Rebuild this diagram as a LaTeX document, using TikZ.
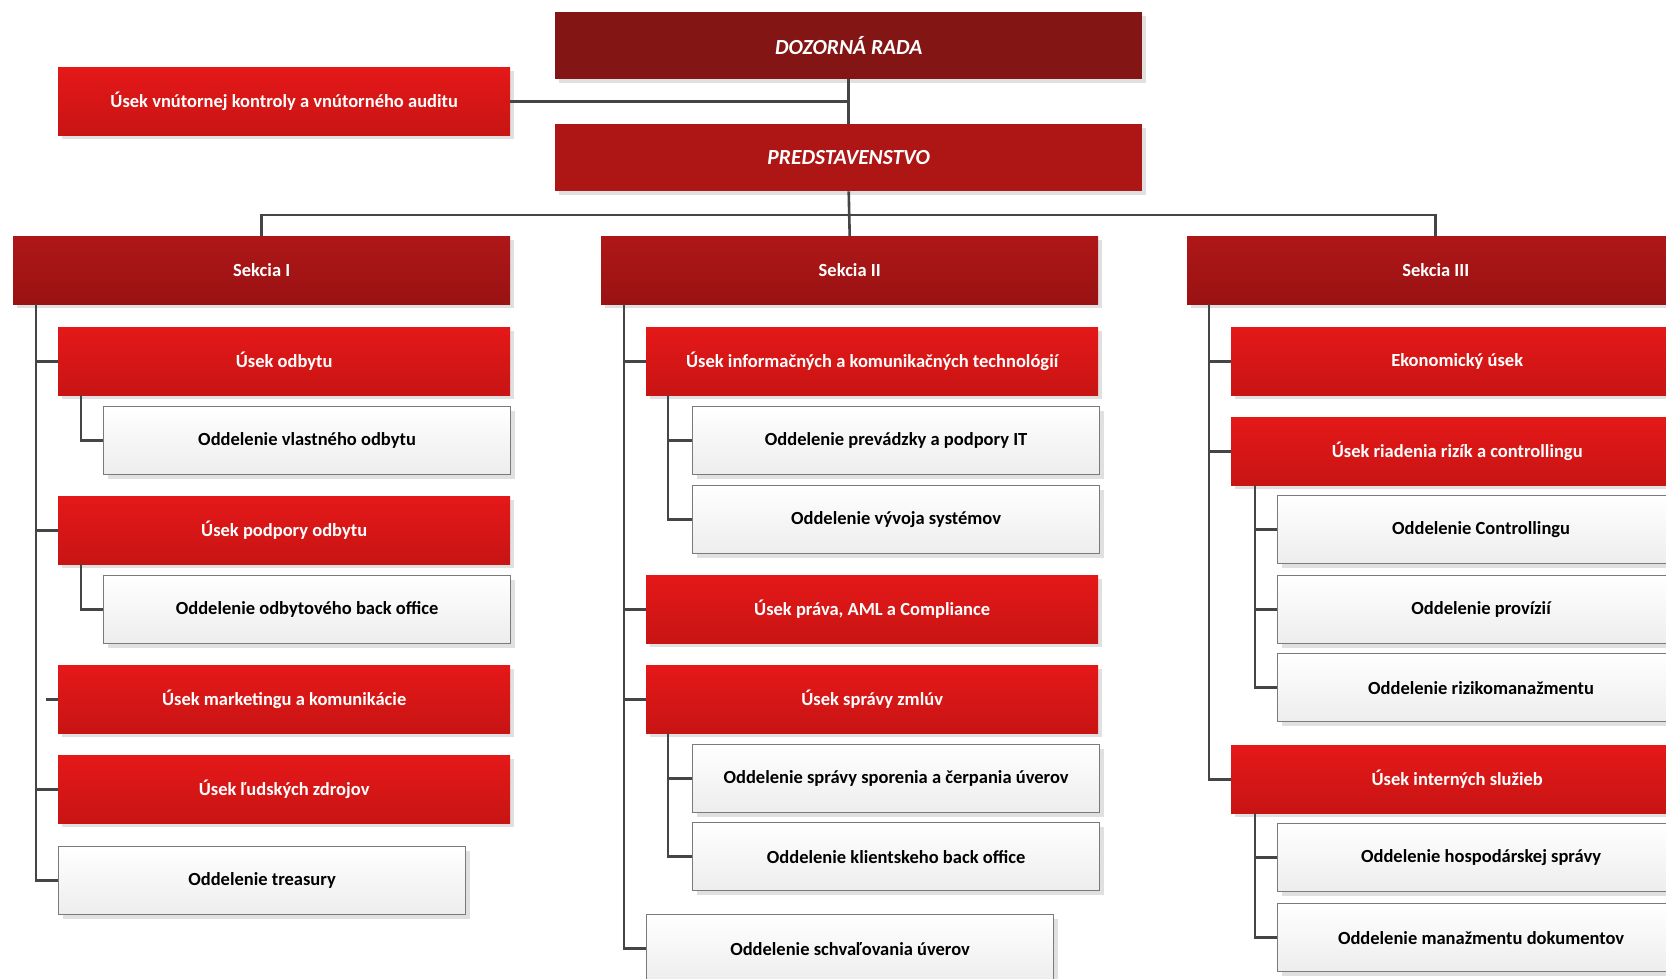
\documentclass[tikz,border=0pt]{standalone}
\usepackage{fontspec}
\setmainfont{Carlito}
\usetikzlibrary{shadows}
\definecolor{usekTop}{HTML}{E51818}
\definecolor{usekBot}{HTML}{C81414}
\definecolor{sekTop}{HTML}{AF1717}
\definecolor{sekBot}{HTML}{9A1214}
\definecolor{dozorC}{HTML}{831515}
\definecolor{predC}{HTML}{AE1515}
\definecolor{oddBot}{HTML}{EDEDED}
\definecolor{oddLine}{HTML}{7A7A7A}
\definecolor{connC}{HTML}{454545}
\begin{document}
\begin{tikzpicture}[x=1pt,y=-1pt,
  box/.style={anchor=north west, minimum height=68pt, inner sep=0pt,
    font=\fontsize{18.5}{22}\selectfont\bfseries,
    drop shadow={shadow xshift=4pt, shadow yshift=-4pt, fill=black!12, opacity=1}},
  usekbox/.style={box, minimum width=452pt, top color=usekTop, bottom color=usekBot, text=white},
  oddbox/.style={box, minimum width=407pt, top color=white, bottom color=oddBot, draw=oddLine, line width=1.2pt, text=black},
  sekbox/.style={box, minimum width=497pt, top color=sekTop, bottom color=sekBot, text=white},
  topbox/.style={box, minimum width=587pt, minimum height=67pt, text=white,
    font=\fontsize{21.5}{25}\selectfont\bfseries\itshape},
  conn/.style={draw=connC, line width=2.6pt}
]
\useasboundingbox[fill=white] (0,0) rectangle (1666,978);

% top
\node[topbox, fill=dozorC] (dozor) at (555,12) {DOZORNÁ RADA};
\node[usekbox] (kontrola) at (58,67) {Úsek vnútornej kontroly a vnútorného auditu};
\node[topbox, fill=predC] (pred) at (555,124) {PREDSTAVENSTVO};

% sections
\node[sekbox] (sek1) at (13,236) {Sekcia I};
\node[sekbox] (sek2) at (601,236) {Sekcia II};
\node[sekbox] (sek3) at (1187,236) {Sekcia III};

% left column
\node[usekbox] (odbytu) at (58,327) {Úsek odbytu};
\node[oddbox] (vlastneho) at (103,406) {Oddelenie vlastného odbytu};
\node[usekbox] (podpory) at (58,496) {Úsek podpory odbytu};
\node[oddbox] (backoff) at (103,575) {Oddelenie odbytového back office};
\node[usekbox] (marketing) at (58,665) {Úsek marketingu a komunikácie};
\node[usekbox] (ludske) at (58,755) {Úsek ľudských zdrojov};
\node[oddbox] (treasury) at (58,846) {Oddelenie treasury};

% middle column
\node[usekbox] (ikt) at (646,327) {Úsek informačných a komunikačných technológií};
\node[oddbox] (prevadzka) at (692,406) {Oddelenie prevádzky a podpory IT};
\node[oddbox] (vyvoj) at (692,485) {Oddelenie vývoja systémov};
\node[usekbox] (prava) at (646,575) {Úsek práva, AML a Compliance};
\node[usekbox] (zmluvy) at (646,665) {Úsek správy zmlúv};
\node[oddbox] (sporenie) at (692,744) {Oddelenie správy sporenia a čerpania úverov};
\node[oddbox] (klient) at (692,822) {Oddelenie klientskeho back office};
\node[oddbox] (schval) at (646,914) {Oddelenie schvaľovania úverov};

% right column
\node[usekbox] (ekon) at (1231,327) {Ekonomický úsek};
\node[usekbox] (rizika) at (1231,417) {Úsek riadenia rizík a controllingu};
\node[oddbox] (control) at (1277,495) {Oddelenie Controllingu};
\node[oddbox] (provizie) at (1277,575) {Oddelenie provízií};
\node[oddbox] (rizman) at (1277,653) {Oddelenie rizikomanažmentu};
\node[usekbox] (interne) at (1231,745) {Úsek interných služieb};
\node[oddbox] (hosp) at (1277,823) {Oddelenie hospodárskej správy};
\node[oddbox] (dokum) at (1277,903) {Oddelenie manažmentu dokumentov};

% helper coordinates
\coordinate (busy) at (0,215);
\coordinate (t1) at (36,0);
\coordinate (s1) at (81,0);
\coordinate (t2) at (624,0);
\coordinate (s2) at (668,0);
\coordinate (t3) at (1209,0);
\coordinate (s3) at (1255,0);
\coordinate (mstub) at (46,0);

% top connectors
\draw[conn] (dozor.south) -- (pred.north);
\draw[conn] (kontrola.east) -- (kontrola.east -| dozor.south);
\draw[conn] (pred.south) -- (sek2.north);
\draw[conn] (sek1.north) -- (sek1.north |- busy) -- (sek3.north |- busy) -- (sek3.north);

% left
\draw[conn] (sek1.south -| t1) -- (treasury.west -| t1) -- (treasury.west);
\draw[conn] (odbytu.west -| t1) -- (odbytu.west);
\draw[conn] (podpory.west -| t1) -- (podpory.west);
\draw[conn] (ludske.west -| t1) -- (ludske.west);
\draw[conn] (marketing.west -| mstub) -- (marketing.west);
\draw[conn] (odbytu.south -| s1) |- (vlastneho.west);
\draw[conn] (podpory.south -| s1) |- (backoff.west);

% middle
\draw[conn] (sek2.south -| t2) -- (schval.west -| t2) -- (schval.west);
\draw[conn] (ikt.west -| t2) -- (ikt.west);
\draw[conn] (prava.west -| t2) -- (prava.west);
\draw[conn] (zmluvy.west -| t2) -- (zmluvy.west);
\draw[conn] (ikt.south -| s2) -- (vyvoj.west -| s2) -- (vyvoj.west);
\draw[conn] (prevadzka.west -| s2) -- (prevadzka.west);
\draw[conn] (zmluvy.south -| s2) -- (klient.west -| s2) -- (klient.west);
\draw[conn] (sporenie.west -| s2) -- (sporenie.west);

% right
\draw[conn] (sek3.south -| t3) -- (interne.west -| t3) -- (interne.west);
\draw[conn] (ekon.west -| t3) -- (ekon.west);
\draw[conn] (rizika.west -| t3) -- (rizika.west);
\draw[conn] (rizika.south -| s3) -- (rizman.west -| s3) -- (rizman.west);
\draw[conn] (control.west -| s3) -- (control.west);
\draw[conn] (provizie.west -| s3) -- (provizie.west);
\draw[conn] (interne.south -| s3) -- (dokum.west -| s3) -- (dokum.west);
\draw[conn] (hosp.west -| s3) -- (hosp.west);
\end{tikzpicture}
\end{document}
